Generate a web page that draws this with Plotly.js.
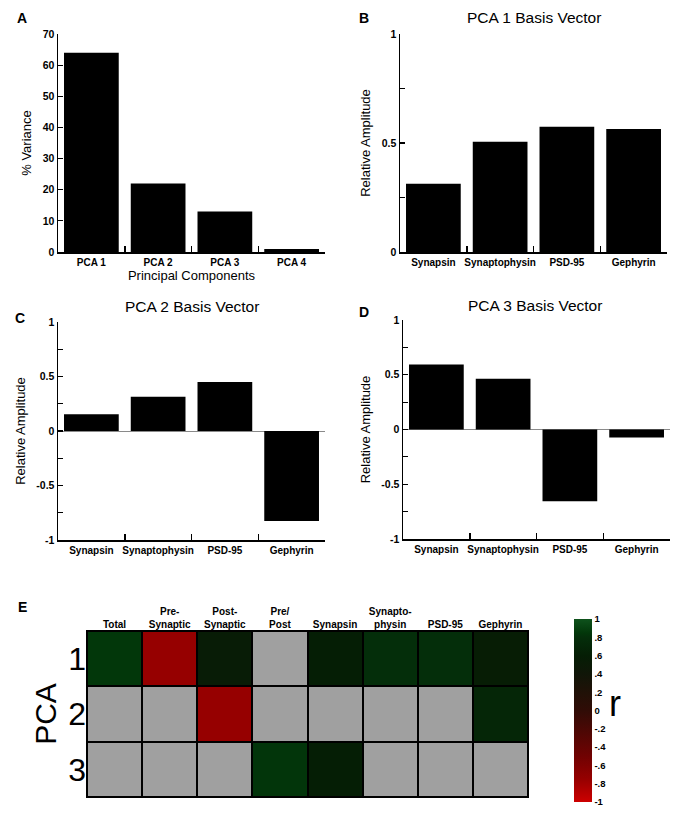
<!DOCTYPE html>
<html>
<head>
<meta charset="utf-8">
<script src="https://cdn.plot.ly/plotly-3.0.1.min.js"></script>
<style>
  html, body { margin: 0; padding: 0; background: #ffffff; }
  #chart { width: 684px; height: 828px; }
</style>
</head>
<body>
<div id="chart"></div>
<script>
// ---------- data ----------
const pcaComponents = ['PCA 1', 'PCA 2', 'PCA 3', 'PCA 4'];
const pctVariance = [64, 22, 13, 1];

const proteins = ['Synapsin', 'Synaptophysin', 'PSD-95', 'Gephyrin'];
const pca1Basis = [0.313, 0.506, 0.575, 0.564];
const pca2Basis = [0.153, 0.315, 0.45, -0.826];
const pca3Basis = [0.594, 0.463, -0.655, -0.073];

const heatColumns = ['Total', 'Pre-<br>Synaptic', 'Post-<br>Synaptic', 'Pre/<br>Post', 'Synapsin', 'Synapto-<br>physin', 'PSD-95', 'Gephyrin'];
const heatRows = ['1', '2', '3'];
const corrPca1 = [0.85, -0.75, 0.55, null, 0.6, 0.8, 0.8, 0.57];
const corrPca2 = [null, null, -0.75, null, null, null, null, 0.7];
const corrPca3 = [null, null, null, 0.84, 0.6, null, null, null];
const colorbarTickVals = [-1, -0.8, -0.6, -0.4, -0.2, 0, 0.2, 0.4, 0.6, 0.8, 1];
const colorbarTickText = ['-1', '-.8', '-.6', '-.4', '-.2', '0', '.2', '.4', '.6', '.8', '1'];

// ---------- helpers ----------
const W = 684, H = 828;
const px = v => v / W;
const py = v => 1 - v / H;
const FONT = 'Liberation Sans, Arial, Helvetica, sans-serif';
const tickFont = { family: FONT, size: 10, color: '#000', weight: 'bold' };
const yTickFont = { family: FONT, size: 10.5, color: '#000', weight: 'bold' };
const axTitleFont = { family: FONT, size: 13, color: '#000' };

function barTrace(x, y, xa, ya) {
  return { type: 'bar', x: x, y: y, xaxis: xa, yaxis: ya, width: 0.82,
           marker: { color: '#000', line: { width: 0 } }, showlegend: false, hoverinfo: 'x+y' };
}

function catAxis(domain, anchor, titleText) {
  const ax = {
    domain: domain, anchor: anchor, type: 'category',
    showline: true, linecolor: '#000', linewidth: 1.5,
    ticks: 'inside', tickson: 'boundaries', ticklen: 6, tickwidth: 1.5, tickcolor: '#000',
    tickangle: 0,
    showgrid: false, zeroline: false, tickfont: tickFont, fixedrange: true
  };
  if (titleText) ax.title = { text: titleText, font: axTitleFont, standoff: 4 };
  return ax;
}

function valAxis(domain, anchor, range, tickvals, ticktext, zeroline) {
  return {
    domain: domain, anchor: anchor, range: range,
    tickmode: 'array', tickvals: tickvals, ticktext: ticktext,
    showline: true, linecolor: '#000', linewidth: 1.5,
    ticks: 'inside', ticklen: 5, tickwidth: 1.2, tickcolor: '#000',
    showgrid: false, zeroline: zeroline, zerolinecolor: '#8a8a8a', zerolinewidth: 1,
    tickfont: yTickFont, fixedrange: true,
    title: { text: 'Relative Amplitude', font: axTitleFont, standoff: 8 }
  };
}

// heatmap z matrices derived from the row arrays
const corrMatrix = [corrPca1, corrPca2, corrPca3];
const maskMatrix = corrMatrix.map(row => row.map(v => (v === null ? 1 : null)));

const corrScale = [
  [0, 'rgb(205,0,0)'],
  [0.125, 'rgb(150,0,0)'],
  [0.25, 'rgb(112,2,2)'],
  [0.5, 'rgb(48,12,6)'],
  [0.7, 'rgb(16,22,8)'],
  [0.8, 'rgb(5,30,5)'],
  [0.9, 'rgb(4,46,10)'],
  [0.925, 'rgb(2,55,10)'],
  [1, 'rgb(14,82,28)']
];

const traces = [
  barTrace(pcaComponents, pctVariance, 'x', 'y'),
  barTrace(proteins, pca1Basis, 'x2', 'y2'),
  barTrace(proteins, pca2Basis, 'x3', 'y3'),
  barTrace(proteins, pca3Basis, 'x4', 'y4'),
  { type: 'heatmap', x: heatColumns, y: heatRows, z: maskMatrix, xaxis: 'x5', yaxis: 'y5',
    colorscale: [[0, '#a0a0a0'], [1, '#a0a0a0']], showscale: false, xgap: 2, ygap: 2,
    hoverinfo: 'skip' },
  { type: 'heatmap', x: heatColumns, y: heatRows, z: corrMatrix, xaxis: 'x5', yaxis: 'y5',
    zmin: -1, zmax: 1, colorscale: corrScale, xgap: 2, ygap: 2,
    colorbar: {
      x: px(574), xanchor: 'left', xpad: 0, y: py(710.5), yanchor: 'middle', ypad: 0,
      thickness: 18, thicknessmode: 'pixels', len: 183, lenmode: 'pixels',
      outlinewidth: 0, tickmode: 'array', tickvals: colorbarTickVals, ticktext: colorbarTickText,
      ticks: '', ticklabelstandoff: 4,
      tickfont: { family: FONT, size: 9.5, color: '#000', weight: 'bold' }
    } }
];

const ann = (text, x, y, size, bold, extra) => Object.assign({
  text: text, xref: 'paper', yref: 'paper', x: px(x), y: py(y),
  xanchor: 'center', yanchor: 'middle', showarrow: false,
  font: { family: FONT, size: size, color: '#000', weight: bold ? 'bold' : 'normal' }
}, extra || {});

const layout = {
  width: W, height: H,
  margin: { l: 0, r: 0, t: 0, b: 0 },
  paper_bgcolor: '#fff', plot_bgcolor: 'rgba(0,0,0,0)',
  showlegend: false,
  font: { family: FONT, color: '#000' },

  xaxis: catAxis([px(58), px(325)], 'y', 'Principal Components'),
  yaxis: Object.assign(valAxis([py(252), py(34)], 'x', [0, 70],
           [0, 10, 20, 30, 40, 50, 60, 70], ['0', '10', '20', '30', '40', '50', '60', '70'], false),
           { title: { text: '% Variance', font: axTitleFont, standoff: 8 } }),

  xaxis2: catAxis([px(400), px(667)], 'y2'),
  yaxis2: valAxis([py(252), py(34)], 'x2', [0, 1],
           [0, 0.25, 0.5, 0.75, 1], ['0', '', '0.5', '', '1'], false),

  xaxis3: catAxis([px(58), px(325)], 'y3'),
  yaxis3: valAxis([py(540), py(322)], 'x3', [-1, 1],
           [-1, -0.75, -0.5, -0.25, 0, 0.25, 0.5, 0.75, 1], ['-1', '', '-0.5', '', '0', '', '0.5', '', '1'], true),

  xaxis4: catAxis([px(403), px(670)], 'y4'),
  yaxis4: valAxis([py(539), py(320)], 'x4', [-1, 1],
           [-1, -0.75, -0.5, -0.25, 0, 0.25, 0.5, 0.75, 1], ['-1', '', '-0.5', '', '0', '', '0.5', '', '1'], true),

  xaxis5: { domain: [px(87), px(528)], anchor: 'y5', side: 'top', type: 'category',
            showline: false, showgrid: false, zeroline: false, ticks: '', tickangle: 0,
            tickfont: { family: FONT, size: 10, color: '#000', weight: 'bold' }, fixedrange: true },
  yaxis5: { domain: [py(797), py(631)], anchor: 'x5', type: 'category', autorange: 'reversed',
            showline: false, showgrid: false, zeroline: false, ticks: '',
            tickfont: { family: FONT, size: 32, color: '#000' }, fixedrange: true,
            title: { text: 'PCA', font: { family: FONT, size: 30, color: '#000' }, standoff: 2 } },

  shapes: [
    { type: 'rect', xref: 'x5 domain', yref: 'y5 domain', x0: 0, x1: 1, y0: 0, y1: 1,
      fillcolor: '#000', line: { color: '#000', width: 2 }, layer: 'below' }
  ],

  annotations: [
    ann('A', 22, 18, 14, true),
    ann('B', 364, 18, 14, true),
    ann('C', 20, 318, 14, true),
    ann('D', 364, 312, 14, true),
    ann('E', 22, 607, 14, true),
    ann('PCA 1 Basis Vector', 534, 18, 15.5, false),
    ann('PCA 2 Basis Vector', 192, 306, 15.5, false),
    ann('PCA 3 Basis Vector', 535, 305, 15.5, false),
    ann('r', 615, 703, 36, false)
  ]
};

Plotly.newPlot('chart', traces, layout, { staticPlot: true, displayModeBar: false });
</script>
</body>
</html>
